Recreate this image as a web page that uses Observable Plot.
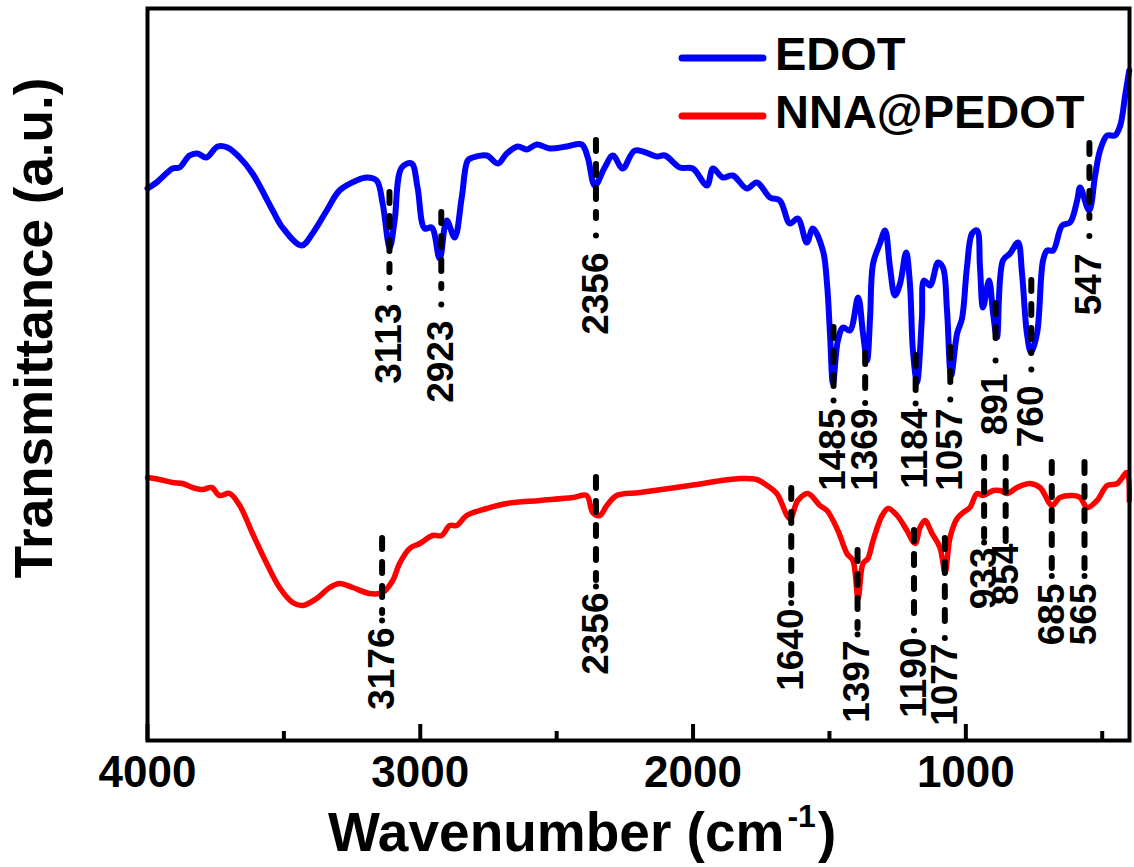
<!DOCTYPE html>
<html><head><meta charset="utf-8">
<script src="https://cdn.jsdelivr.net/npm/d3@7"></script>
<script src="https://cdn.jsdelivr.net/npm/@observablehq/plot@0.6"></script>
<style>html,body{margin:0;padding:0;background:#fff;} #chart svg{display:block}</style>
</head><body><div id="chart"></div>
<script>
// ---------- data ----------
const seriesNames = ["EDOT", "NNA@PEDOT"];
const seriesColors = ["#0000ff", "#ff0000"];

const edotWn = [
  4000,3967,3908,3883,3846,3817,3784,3743,3707,3662,
  3615,3541,3505,3435,3395,3343,3296,3233,3197,3160,
  3138,3112,3094,3068,3032,3010,2984,2958,2929,2903,
  2874,2848,2826,2808,2756,2716,2683,2643,2610,2573,
  2525,2463,2408,2386,2360,2324,2294,2258,2213,2133,
  2103,2048,2001,1949,1927,1891,1854,1803,1766,1718,
  1682,1645,1616,1583,1561,1524,1509,1498,1487,1469,
  1450,1425,1395,1377,1362,1351,1340,1315,1296,1278,
  1260,1241,1219,1205,1194,1179,1161,1153,1131,1102,
  1084,1069,1054,1032,1014,996,977,959,948,937,
  915,900,886,864,838,809,794,776,761,739,
  717,702,680,647,618,592,581,548,526,508,
  482,453,434,416,401];
const edotT = [
  55.2,55.8,57.2,57.3,58.5,58.7,58.3,59.4,59.3,58.3,
  56.7,53.0,51.3,49.5,50.7,53.0,55.0,56.0,56.3,56.0,
  53.7,49.3,52.0,57.3,57.7,55.3,51.2,51.3,48.2,52.0,
  50.3,54.3,58.0,58.3,58.5,57.7,58.7,59.4,59.1,59.6,
  59.2,59.4,59.6,58.3,55.5,57.3,58.5,57.2,59.0,58.4,
  58.5,57.3,57.2,55.5,57.2,56.3,56.5,55.2,55.8,54.3,
  54.0,51.7,52.2,49.8,51.2,49.0,45.7,40.7,35.7,40.0,
  41.3,41.0,44.3,40.7,38.0,42.3,47.7,49.7,51.0,47.3,
  44.5,45.7,48.8,45.7,39.0,35.8,42.3,46.0,45.5,47.8,
  47.3,43.0,36.5,40.7,42.2,47.3,50.7,51.0,47.3,43.3,
  46.0,42.7,40.3,48.0,48.7,49.8,46.7,40.7,38.8,40.7,
  48.0,49.0,49.0,51.5,51.8,54.0,55.3,53.0,56.5,59.0,
  60.5,60.5,61.5,64.5,67.0];

const pedotWn = [
  4000,3956,3908,3872,3835,3798,3765,3736,3699,3662,
  3615,3563,3516,3468,3431,3380,3332,3296,3248,3186,
  3138,3101,3076,3039,3002,2955,2922,2892,2866,2830,
  2756,2683,2562,2441,2390,2368,2342,2316,2280,2195,
  2012,1828,1766,1729,1693,1645,1616,1579,1535,1509,
  1469,1436,1414,1395,1377,1359,1340,1307,1285,1252,
  1216,1186,1168,1150,1124,1095,1076,1058,1032,1010,
  985,959,937,900,875,849,812,765,728,684,
  655,607,581,555,519,482,445,409,401];
const pedotT = [
  26.3,26.1,25.8,25.7,25.3,25.1,25.3,24.5,24.7,23.5,
  20.7,17.7,15.3,13.8,13.5,14.2,15.3,15.7,15.3,14.7,
  14.8,16.0,17.7,19.2,19.7,20.5,20.5,21.5,21.5,22.5,
  23.2,23.7,24.0,24.3,24.5,22.8,22.5,23.5,24.5,24.8,
  25.5,26.2,26.1,25.5,24.7,22.2,24.0,24.7,23.5,23.0,
  21.0,18.7,18.0,14.2,17.7,18.2,20.0,22.5,23.2,22.5,
  21.0,19.7,21.3,22.0,20.7,19.3,16.8,20.3,22.2,22.8,
  23.3,24.7,24.5,25.0,25.0,24.7,25.3,25.7,25.3,23.5,
  24.3,24.5,24.3,23.3,24.0,25.5,25.7,26.8,24.0];

// peak annotations (wavenumber, and transmittance a.u. extents)
const edotPeakLabels = ["3113","2923","2356","1485","1369","1184","1057","891","760","547"];
const edotPeakPos    = [3113, 2923, 2356, 1485, 1369, 1184, 1057, 891, 760, 547];
const edotPeakTop    = [54.8, 52.8, 60.0, 41.3, 38.7, 38.5, 39.3, 43.7, 46.0, 59.7];
const edotPeakBottom = [46.8, 45.2, 52.2, 34.8, 34.3, 34.2, 35.0, 39.3, 38.7, 52.2];
const edotPeakText   = [43.7, 42.0, 48.8, 33.2, 33.2, 33.2, 33.2, 36.7, 35.5, 48.7];

const pedotPeakLabels = ["3176","2356","1640","1397","1190","1077","933","854","685","565"];
const pedotPeakPos    = [3140, 2356, 1640, 1397, 1190, 1077, 933, 854, 685, 565];
const pedotPeakTop    = [20.2, 26.3, 25.2, 19.0, 21.0, 20.2, 28.3, 28.3, 27.8, 27.8];
const pedotPeakBottom = [12.7, 16.0, 14.3, 11.2, 11.7, 10.8, 20.3, 20.2, 17.2, 17.2];
const pedotPeakText   = [11.3, 14.8, 13.2, 10.0, 10.3, 9.7, 19.3, 19.7, 15.7, 15.7];

const majorTicks = [4000, 3000, 2000, 1000];
const minorTicks = [3500, 2500, 1500, 500];
const xDomain = [4000, 400];
const yDomain = [0, 73.2];

// ---------- build tables ----------
const edot = edotWn.map((w, i) => ({wn: w, t: edotT[i]}));
const pedot = pedotWn.map((w, i) => ({wn: w, t: pedotT[i]}));
const peaks = [
  ...edotPeakLabels.map((l, i) => ({label: l, pos: edotPeakPos[i], top: edotPeakTop[i], bottom: edotPeakBottom[i], at: edotPeakText[i]})),
  ...pedotPeakLabels.map((l, i) => ({label: l, pos: pedotPeakPos[i], top: pedotPeakTop[i], bottom: pedotPeakBottom[i], at: pedotPeakText[i]}))
];

const W = 1134, H = 867, mT = 8, mB = 127, mL = 147, mR = 5;
const innerH = H - mT - mB;
const FONT = "'Liberation Sans', Arial, Helvetica, sans-serif";

const chart = Plot.plot({
  width: W, height: H,
  marginTop: mT, marginBottom: mB, marginLeft: mL, marginRight: mR,
  style: {fontFamily: FONT, fontWeight: "bold", background: "#fff", overflow: "visible"},
  x: {domain: xDomain},
  y: {domain: yDomain, axis: null},
  marks: [
    Plot.line(edot, {x: "wn", y: "t", stroke: seriesColors[0], strokeWidth: 6, curve: "catmull-rom", strokeLinejoin: "round"}),
    Plot.line(pedot, {x: "wn", y: "t", stroke: seriesColors[1], strokeWidth: 5.5, curve: "catmull-rom", strokeLinejoin: "round"}),
    Plot.ruleX(peaks, {x: "pos", y1: "top", y2: "bottom", stroke: "#000", strokeWidth: 6, strokeDasharray: "11,13", strokeLinecap: "round"}),
    Plot.dot(peaks, {x: "pos", y: d => (d.bottom + d.at) / 2, r: 3, fill: "#000", stroke: null}),
    Plot.text(peaks, {x: "pos", y: "at", text: "label", rotate: -90, textAnchor: "end", fontSize: 37, fontWeight: "bold", fill: "#000"}),
    Plot.ruleX(majorTicks, {insetTop: innerH - 16, stroke: "#000", strokeWidth: 4}),
    Plot.ruleX(minorTicks, {insetTop: innerH - 9, stroke: "#000", strokeWidth: 4}),
    Plot.frame({stroke: "#000", strokeWidth: 4}),
    Plot.axisX({ticks: majorTicks, tickSize: 0, tickPadding: 15, tickFormat: d => String(d), fontSize: 44, fontWeight: "bold", label: null})
  ]
});
document.getElementById("chart").appendChild(chart);

// ---------- titles & legend ----------
const svg = d3.select(chart);
const g = svg.append("g").attr("font-family", FONT).attr("font-weight", "bold").attr("fill", "#000").attr("text-anchor", "start");

g.append("text")
  .attr("transform", "translate(52,328) rotate(-90)")
  .attr("text-anchor", "middle")
  .attr("font-size", 53)
  .text("Transmittance (a.u.)");

const xt = g.append("text").attr("x", 328).attr("y", 851).attr("font-size", 55).attr("text-anchor", "start");
xt.append("tspan").text("Wavenumber (cm");
xt.append("tspan").attr("font-size", 32).attr("dx", 3).attr("dy", -24).text("-1");
xt.append("tspan").attr("dx", 2).attr("dy", 24).text(")");

const legX0 = 682, legX1 = 763, legTextX = 775, legY0 = 58, legGap = 58;
seriesNames.forEach((name, i) => {
  const y = legY0 + i * legGap;
  g.append("line").attr("x1", legX0).attr("x2", legX1).attr("y1", y).attr("y2", y)
    .attr("stroke", seriesColors[i]).attr("stroke-width", 7).attr("stroke-linecap", "round");
  g.append("text").attr("x", legTextX).attr("y", y + 12).attr("font-size", 47).attr("text-anchor", "start").text(name);
});
</script>
</body></html>
